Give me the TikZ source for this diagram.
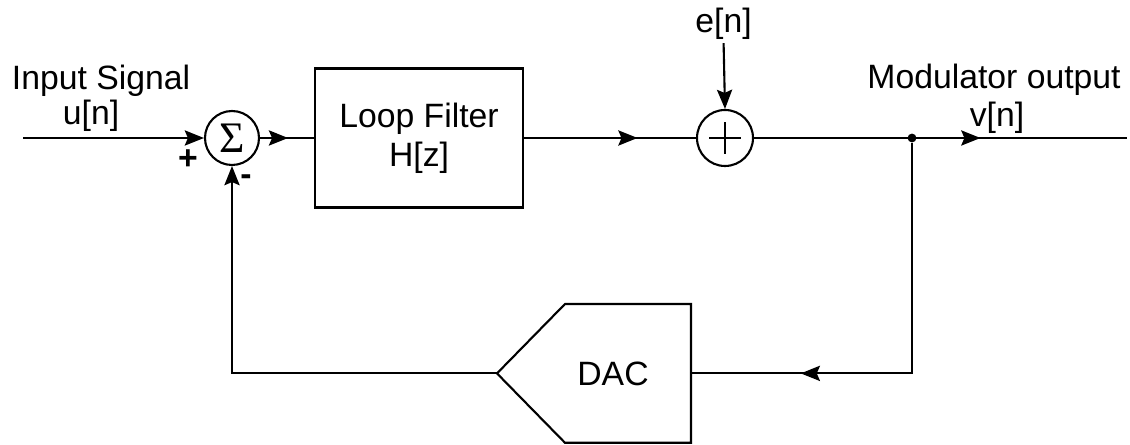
\documentclass[tikz,border=0pt]{standalone}
\usepackage{fontspec}
\setmainfont{Liberation Sans}
\newfontfamily\sumfont{Liberation Serif}
\usetikzlibrary{arrows.meta,positioning,calc,decorations.markings}

\begin{document}
\begin{tikzpicture}[
      font=\fontsize{24}{26}\selectfont,
      sig/.style={line width=1.5pt,draw=black},
      tip/.style={-{Stealth[length=4.8mm,width=3.8mm,inset=0.8mm]}},
      midarrow/.style={postaction={decorate},decoration={markings,
                   mark=at position #1 with {\arrow{Stealth[length=4.8mm,width=3.8mm,inset=0.8mm]}}}},
      blk/.style={sig,minimum width=5.2cm,minimum height=3.475cm,align=center,
                  font=\fontsize{24}{28}\selectfont},
      junc/.style={sig,circle,inner sep=0pt},
      lab/.style={inner sep=2pt,anchor=base},
      sgn/.style={font=\fontsize{24}{26}\selectfont\bfseries,inner sep=0pt}]
    \useasboundingbox (0,0) rectangle (28.25,11.125);
    % forward path
    \coordinate (in) at (0.575,7.675);
    \node[junc,minimum size=1.35cm] (sum) at (5.8,7.675) {\sumfont\fontsize{31}{31}\selectfont Σ};
    \node[blk] (filt) at (10.475,7.675) {Loop Filter\\H[z]};
    \node[junc,minimum size=1.4cm] (add) at (18.125,7.675) {};
    \draw[sig] ([yshift=-0.4cm]add.center) -- ([yshift=0.4cm]add.center);
    \draw[sig] ([xshift=-0.4cm]add.center) -- ([xshift=0.4cm]add.center);
    \node[circle,fill=black,inner sep=0pt,minimum size=0.22cm] (tap) at (22.8,7.675) {};
    \coordinate (out) at (28.175,7.675);
    % feedback DAC
    \node (dac) at (15.325,1.79) {DAC};
    \coordinate (dacin)  at (17.275,1.79);
    \coordinate (dacout) at (12.425,1.79);
    \draw[sig] (17.275,3.525) -- (14.125,3.525) -- (dacout) -- (14.125,0.055)
      -- (17.275,0.055) -- cycle;
    % labels
    \node[lab] (insig) at (2.525,8.875) {Input Signal};
    \node[lab] (un)    at (2.275,8.0)   {u[n]};
    \node[lab] (en)    at (18.09,10.3)  {e[n]};
    \node[lab] (modout) at (24.85,8.9)  {Modulator output};
    \node[lab] (vn)    at (24.925,7.95) {v[n]};
    \node[sgn] (plus)  at (4.7,7.125)   {+};
    \node[sgn] (minus) at (6.15,6.625)  {-};
    % connectors
    \draw[sig,tip] (in) -- (sum.west);
    \draw[sig,midarrow=0.52] (sum.east) -- (filt.west);
    \draw[sig,midarrow=0.66] (filt.east) -- (add.west);
    \draw[sig,tip] (en.south) -- (add.north);
    \draw[sig,midarrow=0.607] (add.east) -- (out);
    \draw[sig,midarrow=0.757] (tap) |- (dacin);
    \draw[sig,tip] (dacout) -| (sum.south);
  \end{tikzpicture}
\end{document}
